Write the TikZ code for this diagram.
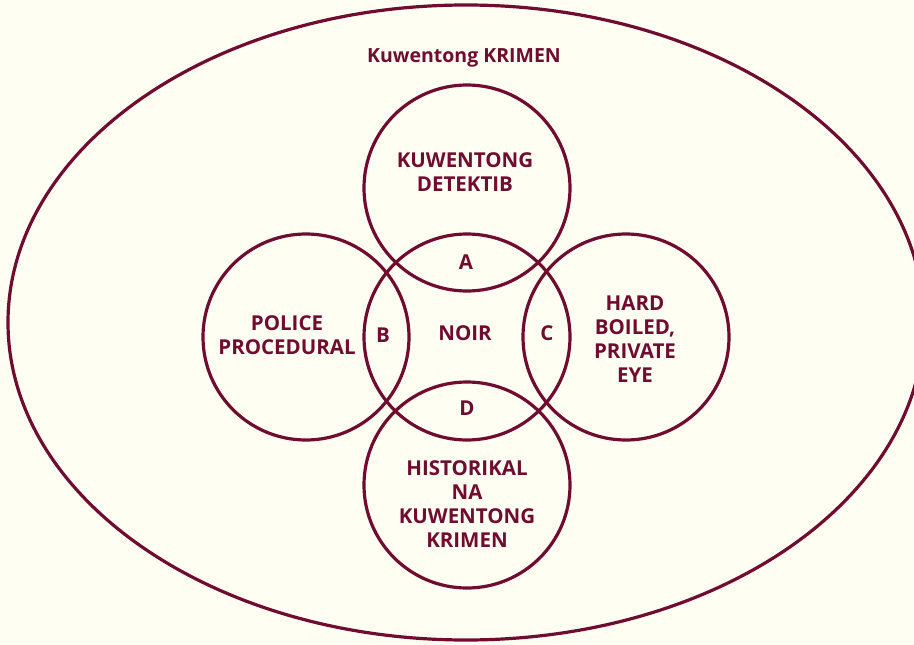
\documentclass[tikz,border=0pt]{standalone}
\usepackage{fontspec}
\usetikzlibrary{shapes.geometric}
\setmainfont{Open Sans}
\definecolor{wine}{RGB}{112,12,48}
\definecolor{paper}{RGB}{254,254,243}
\begin{document}
\begin{tikzpicture}[x=1pt,y=-1pt,
  ring/.style={circle,draw=wine,line width=3.2pt,minimum size=206pt,inner sep=0pt},
  lbl/.style={text=wine,font=\fontsize{20.5}{24}\selectfont\bfseries,align=center,inner sep=0pt},
  small/.style={text=wine,font=\fontsize{20.5}{24}\selectfont\bfseries,inner sep=0pt}]
\useasboundingbox (0,0) rectangle (914,645);
\fill[paper] (0,0) rectangle (914,645);
\begin{scope}
\clip (0,0) rectangle (914,645);
\node[ellipse,draw=wine,line width=3.2pt,minimum width=916pt,minimum height=635pt,inner sep=0pt] (outer) at (466,322.5) {};
\end{scope}
\node[ring] (top) at (467,188) {};
\node[ring] (left) at (306,337) {};
\node[ring] (mid) at (467,337) {};
\node[ring] (right) at (626,337) {};
\node[ring] (bot) at (467,485) {};
\node[small,font=\fontsize{19.5}{24}\selectfont\bfseries] (title) at (464,58) {Kuwentong KRIMEN};
\node[lbl] (tl) at (465,172) {KUWENTONG\\DETEKTIB};
\node[lbl] (ll) at (287,335) {POLICE\\PROCEDURAL};
\node[lbl] (rl) at (635,339) {HARD\\BOILED,\\PRIVATE\\EYE};
\node[lbl] (bl) at (467,504) {HISTORIKAL\\NA\\KUWENTONG\\KRIMEN};
\node[small] (noir) at (465,333) {NOIR};
\node[small] (a) at (466,262) {A};
\node[small] (b) at (383,335) {B};
\node[small] (c) at (547,333) {C};
\node[small] (d) at (467,408) {D};
\end{tikzpicture}
\end{document}
